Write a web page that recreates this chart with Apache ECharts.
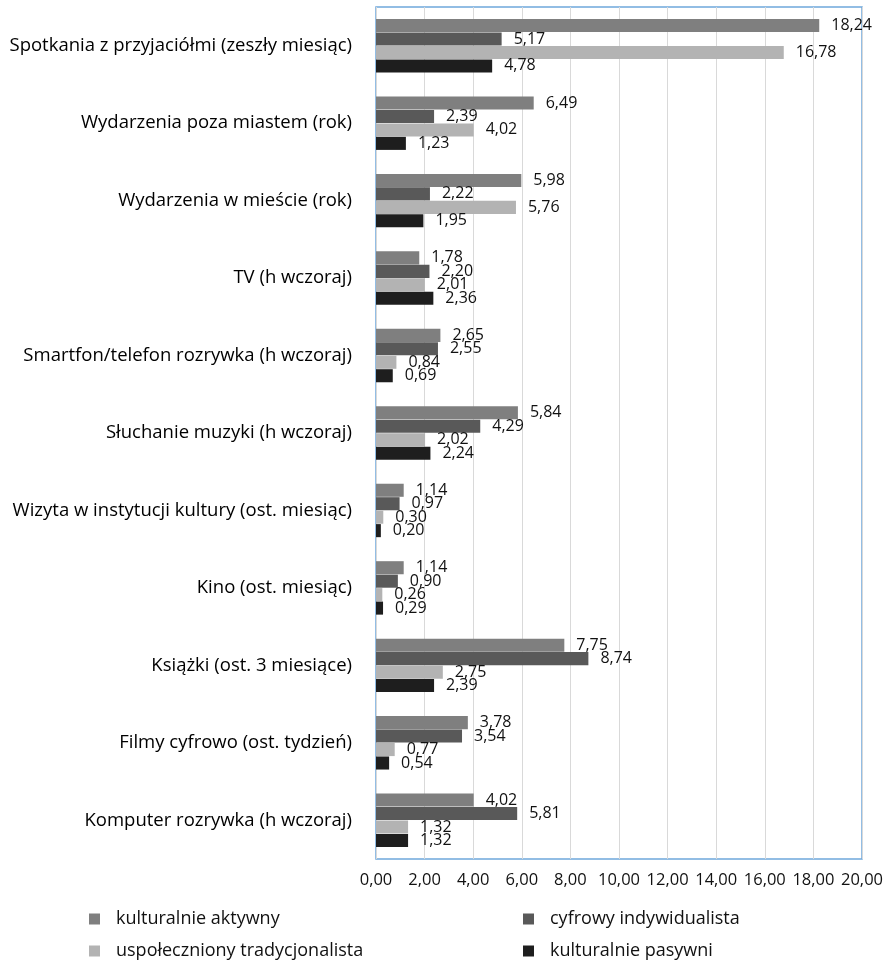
<!DOCTYPE html>
<html>
<head>
<meta charset="utf-8">
<script src="https://cdn.jsdelivr.net/npm/echarts@6/dist/echarts.min.js"></script>
<style>
  html, body { margin: 0; padding: 0; background: #fff; }
  #chart { width: 888px; height: 961px; }
</style>
</head>
<body>
<div id="chart"></div>
<script>
// kategorie od góry do dołu
const categories = [
  'Spotkania z przyjaciółmi (zeszły miesiąc)',
  'Wydarzenia poza miastem (rok)',
  'Wydarzenia w mieście (rok)',
  'TV (h wczoraj)',
  'Smartfon/telefon rozrywka (h wczoraj)',
  'Słuchanie muzyki (h wczoraj)',
  'Wizyta w instytucji kultury (ost. miesiąc)',
  'Kino (ost. miesiąc)',
  'Książki (ost. 3 miesiące)',
  'Filmy cyfrowo (ost. tydzień)',
  'Komputer rozrywka (h wczoraj)'
]
const seriesNames = ['kulturalnie aktywny', 'cyfrowy indywidualista', 'uspołeczniony tradycjonalista', 'kulturalnie pasywni']
const aktywny = [18.24, 6.49, 5.98, 1.78, 2.65, 5.84, 1.14, 1.14, 7.75, 3.78, 4.02]
const cyfrowy = [5.17, 2.39, 2.22, 2.20, 2.55, 4.29, 0.97, 0.90, 8.74, 3.54, 5.81]
const tradycjonalista = [16.78, 4.02, 5.76, 2.01, 0.84, 2.02, 0.30, 0.26, 2.75, 0.77, 1.32]
const pasywni = [4.78, 1.23, 1.95, 2.36, 0.69, 2.24, 0.20, 0.29, 2.39, 0.54, 1.32]
const xTicks = [0, 2, 4, 6, 8, 10, 12, 14, 16, 18, 20]

const colors = ['#7f7f7f', '#595959', '#b3b3b3', '#1e1e1e']
const fontFamily = '"Open Sans", sans-serif'

const values = [aktywny, cyfrowy, tradycjonalista, pasywni]
const fmt = v => v.toFixed(2).replace('.', ',')

const series = seriesNames.map((name, i) => ({
  name: name,
  type: 'bar',
  data: values[i],
  itemStyle: { color: colors[i] },
  barGap: '3%',
  barCategoryGap: '31%',
  label: {
    show: true,
    position: 'right',
    distance: 12,
    color: '#111',
    fontFamily: fontFamily,
    fontSize: 16,
    formatter: p => fmt(p.value)
  }
}))

// pozycje legendy: [left, top]
const legendPos = [[89, 910], [523, 910], [89, 942], [523, 942]]
const legends = seriesNames.map((name, i) => ({
  data: [name],
  left: legendPos[i][0],
  top: legendPos[i][1],
  padding: 0,
  itemWidth: 11,
  itemHeight: 11,
  icon: 'rect',
  textStyle: {
    fontSize: 18,
    color: '#111',
    fontFamily: fontFamily,
    padding: [0, 0, 0, 11]
  }
}))

const myChart = echarts.init(document.getElementById('chart'), null, { renderer: 'canvas' })
myChart.setOption({
  animation: false,
  backgroundColor: '#fff',
  textStyle: { fontFamily: fontFamily },
  grid: {
    left: 376,
    right: 26,
    top: 7,
    bottom: 102,
    show: true,
    borderColor: '#6fa8dc',
    borderWidth: 1.5,
    containLabel: false
  },
  legend: legends,
  xAxis: {
    type: 'value',
    min: xTicks[0],
    max: xTicks[xTicks.length - 1],
    interval: 2,
    axisLine: { show: false },
    axisTick: { show: false },
    axisLabel: {
      color: '#111',
      fontSize: 16.5,
      margin: 13,
      fontFamily: fontFamily,
      formatter: v => fmt(v)
    },
    splitLine: { lineStyle: { color: '#d9d9d9', width: 1 } }
  },
  yAxis: {
    type: 'category',
    data: categories,
    inverse: true,
    axisLine: { show: false },
    axisTick: { show: false },
    axisLabel: {
      color: '#000',
      fontSize: 18.5,
      margin: 24,
      fontFamily: fontFamily
    }
  },
  series: series
})
</script>
</body>
</html>
